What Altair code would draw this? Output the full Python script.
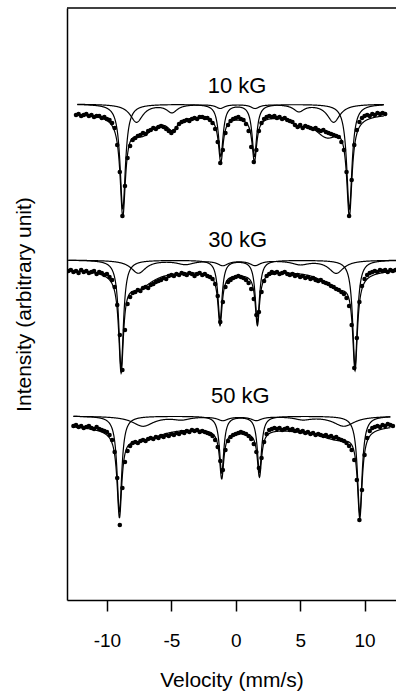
import numpy as np
import pandas as pd
import altair as alt

FONT = "Liberation Sans"
STEP = 0.2  # mm/s per channel

# ---------------- measured points (relative intensity, arbitrary units) ----------------
DOTS10_START = -12.4
DOTS10 = [485, 486, 484, 485, 486, 484, 485, 483, 484, 484,
          482, 483, 481, 480, 477, 472, 455, 428, 384, 414,
          442, 454, 460, 462, 464, 465, 467, 466, 469, 470,
          472, 471, 473, 474, 473, 471, 469, 467, 469, 472,
          476, 478, 479, 480, 479, 481, 482, 481, 483, 483,
          482, 482, 480, 477, 471, 458, 437, 450, 467, 475,
          479, 481, 482, 483, 481, 480, 476, 469, 453, 438,
          450, 469, 477, 481, 483, 484, 483, 484, 482, 483,
          481, 482, 480, 479, 478, 475, 473, 475, 472, 474,
          473, 472, 471, 472, 470, 469, 470, 468, 467, 466,
          465, 464, 463, 458, 450, 428, 384, 420, 455, 470,
          478, 482, 484, 485, 484, 486, 485, 487, 486, 487,
          486]

DOTS30_START = -13.0
DOTS30 = [329, 330, 328, 329, 327, 330, 328, 329, 327, 328,
          329, 326, 328, 327, 325, 326, 323, 320, 313, 295,
          265, 230, 270, 296, 303, 307, 308, 310, 309, 312,
          313, 312, 315, 316, 318, 319, 320, 322, 321, 324,
          325, 324, 326, 325, 327, 326, 325, 327, 326, 324,
          326, 327, 325, 326, 324, 323, 321, 316, 304, 278,
          298, 313, 318, 320, 322, 323, 324, 323, 322, 320,
          317, 311, 301, 285, 288, 308, 319, 324, 326, 328,
          327, 328, 326, 327, 328, 326, 325, 326, 324, 325,
          323, 324, 322, 323, 321, 322, 320, 319, 320, 318,
          317, 316, 314, 313, 311, 310, 308, 306, 302, 294,
          275, 232, 262, 298, 314, 321, 325, 327, 328, 329,
          328, 330, 329, 330, 328, 330, 329, 330]

DOTS50_START = -12.6
DOTS50 = [174, 175, 173, 174, 172, 173, 174, 172, 171, 173,
          171, 170, 169, 168, 165, 160, 148, 122, 75, 112,
          138, 149, 154, 157, 158, 157, 159, 160, 159, 161,
          162, 161, 163, 162, 164, 163, 165, 164, 166, 165,
          167, 166, 168, 167, 169, 168, 170, 169, 170, 168,
          169, 168, 167, 166, 164, 160, 153, 139, 130, 150,
          159, 163, 165, 166, 167, 168, 167, 166, 164, 161,
          156, 148, 132, 142, 158, 166, 170, 171, 172, 171,
          172, 170, 171, 172, 170, 171, 169, 170, 168, 169,
          167, 168, 166, 167, 165, 166, 165, 164, 165, 163,
          164, 162, 163, 161, 160, 159, 157, 154, 150, 140,
          120, 80, 110, 145, 162, 169, 172, 173, 174, 173,
          175, 174, 176, 175, 174]

# ---------------- fitted lines: baseline, line position (mm/s), depth, HWHM (mm/s) ----------------
# 10 kG
T10_BASE = 487
T10_POS = [-8.77, -7.3, -4.9, -1.16, 0.15, 1.45, 4.85, 7.1, 8.82]
T10_DEP = [95, 20, 12, 45, 3, 44, 7, 22, 95]
T10_HW = [0.25, 1.2, 0.5, 0.22, 3.0, 0.22, 0.5, 1.3, 0.25]
S10_BASE = 496
S10_POS = [-8.77, -1.16, 1.45, 8.82]
S10_DEP = [105, 52, 52, 105]
S10_HW = [0.25, 0.22, 0.22, 0.25]
B10_BASE = 496
B10_POS = [-7.7, -4.95, -1.2, 1.5, 4.9, 7.6]
B10_DEP = [18, 8, 4, 4, 7, 18]
B10_HW = [0.6, 0.5, 0.4, 0.4, 0.5, 0.6]
R10 = (-12.3, 11.5)

# 30 kG
T30_BASE = 331
T30_POS = [-8.9, -7.6, -1.22, 0.2, 1.68, 7.9, 9.26]
T30_DEP = [94, 18, 52, 4, 52, 18, 92]
T30_HW = [0.22, 1.4, 0.2, 2.5, 0.2, 1.4, 0.22]
S30_BASE = 340
S30_POS = [-8.9, -1.22, 1.68, 9.26]
S30_DEP = [108, 60, 62, 106]
S30_HW = [0.22, 0.2, 0.2, 0.22]
B30_BASE = 340
B30_POS = [-7.56, -3.9, -1.0, 1.5, 5.0, 7.8]
B30_DEP = [13, 4, 5, 5, 4, 13]
B30_HW = [0.7, 0.8, 0.5, 0.5, 0.8, 0.7]
R30 = (-13.0, 12.44)

# 50 kG
T50_BASE = 176
T50_POS = [-9.03, -7.5, -1.09, 0.4, 1.84, 5.5, 8.0, 9.63]
T50_DEP = [83, 15, 48, 6, 46, 3, 13, 86]
T50_HW = [0.22, 2.2, 0.2, 2.5, 0.2, 2.0, 1.8, 0.22]
S50_BASE = 184
S50_POS = [-9.03, -1.09, 1.84, 9.63]
S50_DEP = [96, 57, 56, 98]
S50_HW = [0.22, 0.2, 0.2, 0.22]
B50_BASE = 184
B50_POS = [-7.2, -4.2, -1.0, 1.6, 5.2, 8.4]
B50_DEP = [10, 3, 4, 4, 3, 10]
B50_HW = [1.0, 0.8, 0.5, 0.5, 0.8, 1.0]
R50 = (-12.6, 12.0)

# ---------------- labels ----------------
LABELS = ["10 kG", "30 kG", "50 kG"]
LABEL_V = [0.1, 0.15, 0.35]
LABEL_I = [507, 353, 197]

X_TICKS = [-10, -5, 0, 5, 10]
X_DOMAIN = [-13.1, 12.44]
Y_DOMAIN = [0, 592]


def lorentz_curve(rng, base, pos, dep, hw):
    v = np.arange(rng[0], rng[1] + 1e-9, 0.02)
    y = np.full_like(v, float(base))
    for p, d, h in zip(pos, dep, hw):
        y -= d * h * h / ((v - p) ** 2 + h * h)
    return v, y


dot_rows = []
for name, start, vals in [("10 kG", DOTS10_START, DOTS10),
                          ("30 kG", DOTS30_START, DOTS30),
                          ("50 kG", DOTS50_START, DOTS50)]:
    for i, val in enumerate(vals):
        dot_rows.append({"v": round(start + STEP * i, 3), "I": val, "c": name})
dots = pd.DataFrame(dot_rows)

curves = {
    "t10": (R10, T10_BASE, T10_POS, T10_DEP, T10_HW),
    "s10": (R10, S10_BASE, S10_POS, S10_DEP, S10_HW),
    "b10": (R10, B10_BASE, B10_POS, B10_DEP, B10_HW),
    "t30": (R30, T30_BASE, T30_POS, T30_DEP, T30_HW),
    "s30": (R30, S30_BASE, S30_POS, S30_DEP, S30_HW),
    "b30": (R30, B30_BASE, B30_POS, B30_DEP, B30_HW),
    "t50": (R50, T50_BASE, T50_POS, T50_DEP, T50_HW),
    "s50": (R50, S50_BASE, S50_POS, S50_DEP, S50_HW),
    "b50": (R50, B50_BASE, B50_POS, B50_DEP, B50_HW),
}
parts = []
for cid, args in curves.items():
    v, y = lorentz_curve(*args)
    parts.append(pd.DataFrame({"v": np.round(v, 3), "I": np.round(y, 2), "c": cid}))
lines = pd.concat(parts, ignore_index=True)

labels = pd.DataFrame({"v": LABEL_V, "I": LABEL_I, "t": LABELS})

xs = alt.Scale(domain=X_DOMAIN, nice=False, zero=False)
ys = alt.Scale(domain=Y_DOMAIN, nice=False, zero=False)

x_axis = alt.Axis(values=X_TICKS, labelExpr="'' + datum.value", title="Velocity (mm/s)",
                  grid=False, domainColor="black", domainWidth=1.5, tickColor="black",
                  tickWidth=1.5, tickSize=11, labelFontSize=19, labelColor="black",
                  labelFont=FONT, labelPadding=20, titleFont=FONT, titleFontSize=21,
                  titleFontWeight="normal", titleColor="black", titlePadding=19)
y_axis = alt.Axis(ticks=False, labels=False, grid=False, domainColor="black", domainWidth=1.5,
                  title="Intensity (arbitrary unit)", titleFont=FONT, titleFontSize=21,
                  titleFontWeight="normal", titleColor="black", titlePadding=33)

X = alt.X("v:Q", scale=xs, axis=x_axis)
Y = alt.Y("I:Q", scale=ys, axis=y_axis)

line_layer = alt.Chart(lines).mark_line(color="black", strokeWidth=1.2, clip=True).encode(
    x=X, y=Y, detail="c:N")
dot_layer = alt.Chart(dots).mark_circle(color="black", size=21, opacity=1, clip=True).encode(
    x=X, y=Y)
text_layer = alt.Chart(labels).mark_text(font=FONT, fontSize=22, color="black",
                                         baseline="alphabetic", align="center").encode(
    x=X, y=Y, text="t:N")
top_layer = alt.Chart(pd.DataFrame({"k": [0]})).mark_rule(color="black", strokeWidth=1.5).encode(
    x=alt.value(0), x2=alt.value(329), y=alt.value(0))

chart = alt.layer(line_layer, dot_layer, text_layer, top_layer).properties(
    width=329, height=592,
    padding={"left": 67, "top": 8, "right": 0, "bottom": 95},
    autosize=alt.AutoSizeParams(type="none"),
    background="white",
).configure_view(stroke=None)

chart.save("out.html", embed_options={"renderer": "svg", "actions": False})
